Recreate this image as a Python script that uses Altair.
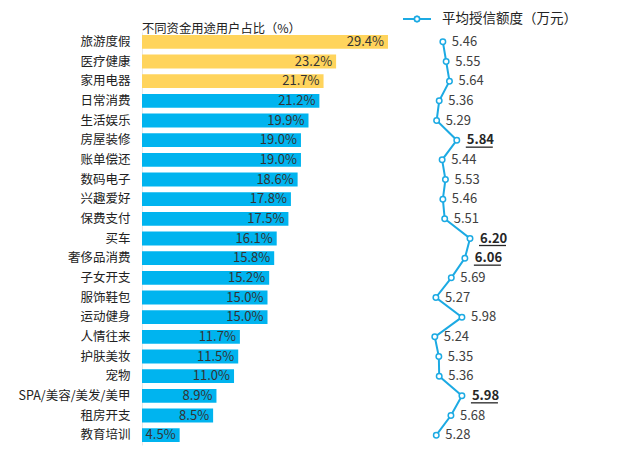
import altair as alt
import pandas as pd

categories = ["旅游度假", "医疗健康", "家用电器", "日常消费", "生活娱乐", "房屋装修", "账单偿还",
              "数码电子", "兴趣爱好", "保费支付", "买车", "奢侈品消费", "子女开支", "服饰鞋包",
              "运动健身", "人情往来", "护肤美妆", "宠物", "SPA/美容/美发/美甲", "租房开支", "教育培训"]
shares = [29.4, 23.2, 21.7, 21.2, 19.9, 19.0, 19.0, 18.6, 17.8, 17.5, 16.1, 15.8, 15.2, 15.0,
          15.0, 11.7, 11.5, 11.0, 8.9, 8.5, 4.5]
credit = [5.46, 5.55, 5.64, 5.36, 5.29, 5.84, 5.44, 5.53, 5.46, 5.51, 6.20, 6.06, 5.69, 5.27,
          5.98, 5.24, 5.35, 5.36, 5.98, 5.68, 5.28]
top_group = ["top"] * 3 + ["rest"] * 18
bold = [False] * 5 + [True] + [False] * 4 + [True, True] + [False] * 6 + [True] + [False] * 2
series_name = "平均授信额度（万元）"

df = pd.DataFrame({
    "cat": categories,
    "share": shares,
    "credit": credit,
    "grp": top_group,
    "bold": bold,
    "idx": list(range(len(categories))),
})
df["series"] = series_name
df["share_lbl"] = df["share"].map(lambda v: f"{v:.1f}%")
df["credit_lbl"] = df["credit"].map(lambda v: f"{v:.2f}")

FONT = "Noto Sans CJK SC"
H = 413
yscale = alt.Scale(type="band", paddingInner=0.3, paddingOuter=0.15)

base_l = alt.Chart(df)
bars = base_l.mark_bar().encode(
    x=alt.X("share:Q", scale=alt.Scale(domain=[0, 30]), axis=None),
    y=alt.Y("cat:N", sort=categories, title=None, scale=yscale,
            axis=alt.Axis(ticks=False, labelPadding=12, labelFontSize=12.5, labelColor="#222222",
                          labelFont=FONT, domainColor="#e8e8e8", labelLimit=300)),
    color=alt.Color("grp:N", scale=alt.Scale(domain=["top", "rest"], range=["#FFD45C", "#00B4EF"]),
                    legend=None),
)
bar_text = base_l.mark_text(align="right", baseline="middle", dx=-4, fontSize=13,
                            font=FONT, color="#333333").encode(
    x=alt.X("share:Q"),
    y=alt.Y("cat:N", sort=categories),
    text="share_lbl:N",
)
left = alt.layer(bars, bar_text).properties(
    width=251, height=H,
    title=alt.TitleParams("不同资金用途用户占比（%）", anchor="start", frame="group", fontSize=12.3,
                          fontWeight="normal", font=FONT, color="#222222", offset=-3),
)

LINE = "#1CAAE3"
SYM = ("M-2,0H-0.4M0.4,0H2M0.4,0L0.28,0.28L0,0.4L-0.28,0.28L-0.4,0"
       "L-0.28,-0.28L0,-0.4L0.28,-0.28Z")
base_r = alt.Chart(df)
xr = alt.X("credit:Q", scale=alt.Scale(domain=[5.0, 6.5]), axis=None)
yr = alt.Y("cat:N", sort=categories, axis=None, scale=yscale)
line = base_r.mark_line(strokeWidth=2, color=LINE).encode(
    x=xr, y=yr, order=alt.Order("idx:Q"),
)
points = base_r.mark_point(filled=True, fill="white", strokeWidth=1.5, size=30,
                           opacity=1).encode(
    x=xr, y=yr,
    stroke=alt.Stroke("series:N", scale=alt.Scale(range=[LINE]),
                      legend=alt.Legend(orient="none", legendX=267, legendY=-21, title=None,
                                        symbolType=SYM, symbolSize=196, symbolStrokeWidth=1.8,
                                        symbolFillColor="white",
                                        labelFontSize=13.5, labelFont=FONT, labelColor="#222222",
                                        labelOffset=17, labelLimit=300)),
)
txt_norm = base_r.mark_text(align="left", baseline="middle", dx=9, fontSize=13, font=FONT,
                            color="#404040").encode(x=xr, y=yr, text="credit_lbl:N").transform_filter(
    "!datum.bold")
txt_bold = base_r.mark_text(align="left", baseline="middle", dx=10, fontSize=13, font=FONT,
                            fontWeight="bold", color="#262626").encode(
    x=xr, y=yr, text="credit_lbl:N").transform_filter("datum.bold")
underline = base_r.mark_rule(xOffset=9, x2Offset=36, yOffset=7, color="#262626",
                             strokeWidth=1.3).encode(
    x=xr, x2="credit:Q", y=yr).transform_filter("datum.bold")
right = alt.layer(line, points, txt_norm, txt_bold, underline).properties(width=55, height=H)

chart = alt.hconcat(left, right, spacing=33).configure_view(stroke=None).properties(
    padding={"left": 10, "top": 3, "right": 5, "bottom": 5})

chart.save("out.html", embed_options={"renderer": "svg", "actions": False})
